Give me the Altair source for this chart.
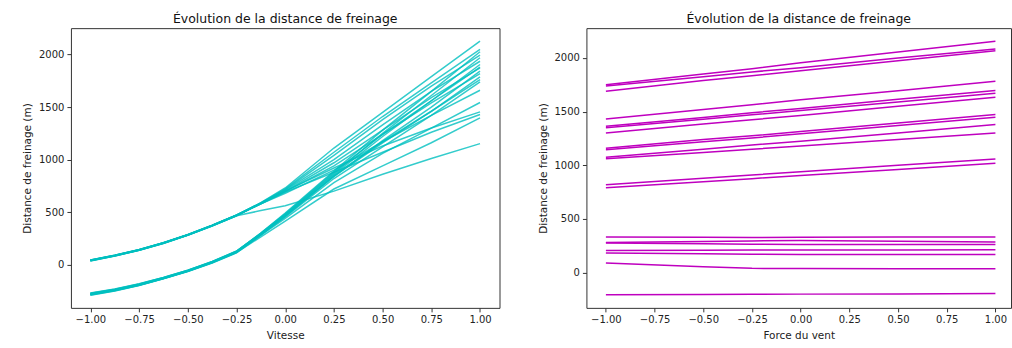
import altair as alt
import pandas as pd

# --- Left panel: ICE curves vs "Vitesse"
vitesse_x = [-1.0, -0.875, -0.75, -0.625, -0.5, -0.375, -0.25, -0.125, 0.0, 0.25, 0.5, 0.75, 1.0]
vitesse_lines = [
    [40, 86, 140, 206, 283, 372, 470, 590, 730, 1110, 1450, 1790, 2127],
    [42, 88, 142, 208, 285, 374, 472, 588, 722, 1070, 1410, 1730, 2050],
    [38, 84, 138, 204, 281, 370, 468, 584, 715, 1040, 1380, 1700, 1994],
    [45, 90, 144, 210, 287, 376, 474, 586, 710, 1000, 1330, 1650, 1936],
    [36, 82, 136, 202, 280, 368, 466, 580, 700, 970, 1280, 1590, 1873],
    [44, 89, 143, 209, 286, 375, 472, 582, 695, 940, 1240, 1540, 1819],
    [41, 87, 141, 207, 284, 373, 470, 578, 680, 900, 1170, 1420, 1660],
    [39, 85, 139, 205, 282, 371, 465, 515, 560, 700, 860, 1010, 1152],
    [43, 89, 142, 208, 285, 374, 470, 580, 690, 880, 1070, 1260, 1429],
    [37, 83, 137, 203, 281, 369, 466, 585, 700, 920, 1130, 1300, 1454],
    [-280, -240, -190, -128, -58, 24, 125, 300, 490, 890, 1280, 1650, 2026],
    [-285, -245, -195, -132, -62, 20, 118, 290, 475, 870, 1250, 1610, 1969],
    [-275, -236, -186, -124, -55, 28, 128, 298, 480, 860, 1220, 1560, 1905],
    [-290, -250, -198, -135, -66, 16, 112, 280, 460, 840, 1180, 1500, 1841],
    [-270, -232, -182, -121, -52, 30, 130, 295, 470, 840, 1160, 1460, 1787],
    [-282, -242, -191, -130, -60, 22, 120, 285, 455, 820, 1120, 1420, 1740],
    [-278, -238, -188, -126, -57, 25, 122, 280, 440, 780, 1060, 1300, 1543],
    [-288, -248, -196, -133, -64, 18, 115, 265, 415, 720, 940, 1160, 1397],
    [-272, -234, -184, -122, -53, 29, 127, 300, 485, 880, 1240, 1560, 1880],
    [-284, -244, -193, -131, -61, 21, 119, 288, 465, 850, 1170, 1460, 1760],
]

# --- Right panel: ICE curves vs "Force du vent"
vent_x = [-1.0, -0.5, -0.25, 0.0, 0.5, 1.0]
vent_lines = [
    [1750, 1850, 1900, 1955, 2055, 2155],
    [1740, 1825, 1870, 1910, 2000, 2084],
    [1690, 1790, 1835, 1880, 1975, 2068],
    [1432, 1520, 1565, 1610, 1695, 1783],
    [1364, 1445, 1490, 1530, 1615, 1696],
    [1350, 1430, 1470, 1510, 1590, 1672],
    [1300, 1385, 1425, 1465, 1550, 1635],
    [1160, 1240, 1275, 1315, 1395, 1473],
    [1145, 1220, 1255, 1295, 1370, 1448],
    [1075, 1150, 1190, 1225, 1300, 1380],
    [1062, 1120, 1150, 1180, 1240, 1302],
    [818, 880, 910, 940, 1000, 1060],
    [790, 848, 876, 905, 962, 1020],
    [332, 330, 328, 330, 332, 332],
    [282, 290, 296, 300, 292, 286],
    [276, 270, 265, 263, 263, 263],
    [207, 208, 210, 211, 212, 214],
    [183, 176, 172, 170, 170, 170],
    [90, 55, 40, 38, 37, 37],
    [-205, -203, -201, -200, -198, -195],
]

x_ticks = [-1.0, -0.75, -0.5, -0.25, 0.0, 0.25, 0.5, 0.75, 1.0]
y_ticks = [0, 500, 1000, 1500, 2000]
title_text = "Évolution de la distance de freinage"
y_title = "Distance de freinage (m)"


def to_df(xs, lines):
    rows = []
    for i, ys in enumerate(lines):
        for x, y in zip(xs, ys):
            rows.append({"x": x, "y": y, "id": i})
    return pd.DataFrame(rows)


df_v = to_df(vitesse_x, vitesse_lines)
df_w = to_df(vent_x, vent_lines)

FONT = "DejaVu Sans"

axis_style = dict(
    grid=False,
    domain=False,
    labelFont=FONT,
    titleFont=FONT,
    labelFontSize=10,
    titleFontSize=10.5,
    titleFontWeight="normal",
    labelColor="#222",
    titleColor="#222",
    tickColor="#333",
    tickSize=4,
    labelPadding=3,
    titlePadding=6,
)


def panel(df, color, xtitle, xdomain, ydomain, width, opacity):
    return (
        alt.Chart(df)
        .mark_line(strokeWidth=1.5, opacity=opacity, clip=True)
        .encode(
            x=alt.X(
                "x:Q",
                scale=alt.Scale(domain=xdomain, nice=False, zero=False),
                axis=alt.Axis(values=x_ticks, format=".2f", title=xtitle, **axis_style),
            ),
            y=alt.Y(
                "y:Q",
                scale=alt.Scale(domain=ydomain, nice=False, zero=False),
                axis=alt.Axis(values=y_ticks, format="d", title=y_title, **axis_style),
            ),
            detail="id:N",
            color=alt.value(color),
        )
        .properties(
            width=width,
            height=280,
            title=alt.TitleParams(title_text, fontSize=12.5, font=FONT,
                                  fontWeight="normal", color="#111", offset=3),
        )
    )


left = panel(df_v, "#00bfbf", "Vitesse", [-1.1, 1.1], [-411, 2251], 429, 0.8)
right = panel(df_w, "#bf00bf", "Force du vent", [-1.1, 1.08], [-328, 2278], 425, 1.0)

chart = (
    alt.hconcat(left, right, spacing=37)
    .properties(padding={"left": 22, "top": 12, "right": 0, "bottom": 0})
    .configure_view(stroke="#333", strokeWidth=1)
)

chart.save("out.html", embed_options={"renderer": "svg", "actions": False})
